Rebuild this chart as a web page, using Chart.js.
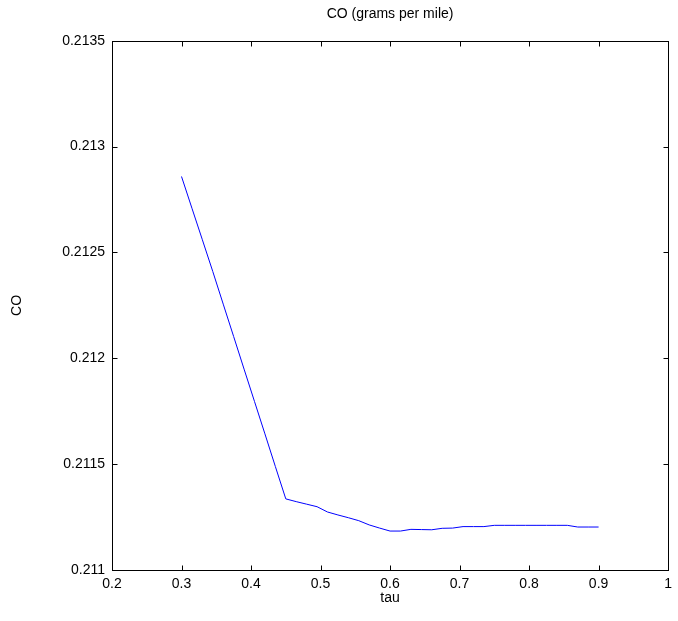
<!DOCTYPE html>
<html>
<head>
<meta charset="utf-8">
<script src="https://cdn.jsdelivr.net/npm/chart.js@4"></script>
<style>
  html, body { margin: 0; padding: 0; background: #fff; }
  #wrap { width: 678px; height: 621px; }
</style>
</head>
<body>
<div id="wrap"><canvas id="coChart" width="678" height="621"></canvas></div>
<script>
// tau grid and CO emissions (grams per mile)
const tauValues = [
  0.3, 0.315, 0.33, 0.345, 0.36, 0.375, 0.39, 0.405, 0.42, 0.435,
  0.45, 0.465, 0.48, 0.495, 0.51, 0.525, 0.54, 0.555, 0.57, 0.585,
  0.6, 0.615, 0.63, 0.645, 0.66, 0.675, 0.69, 0.705, 0.72, 0.735,
  0.75, 0.765, 0.78, 0.795, 0.81, 0.825, 0.84, 0.855, 0.87, 0.885, 0.9
];
const coValues = [
  0.212859, 0.212709, 0.212560, 0.212410, 0.212256, 0.212103, 0.211949, 0.211796, 0.211643, 0.211489,
  0.211336, 0.211323, 0.211311, 0.211299, 0.211274, 0.211260, 0.211247, 0.211233, 0.211213, 0.211198,
  0.211184, 0.211184, 0.211192, 0.211191, 0.211190, 0.211197, 0.211198, 0.211205, 0.211205, 0.211205,
  0.211211, 0.211211, 0.211211, 0.211211, 0.211211, 0.211211, 0.211211, 0.211211, 0.211203, 0.211203, 0.211203
];
const xTickStep = 0.1;
const yTickStep = 0.0005;

const FONT = { family: '"Liberation Sans", Arial, Helvetica, sans-serif', size: 14 };

// black axes box with inward ticks on all four sides
const boxPlugin = {
  id: 'boxPlugin',
  afterDraw(chart) {
    const { ctx, chartArea: a, scales: { x, y } } = chart;
    const L = Math.round(a.left) + 0.5, R = Math.round(a.right) + 0.5;
    const T = Math.round(a.top) + 0.5, B = Math.round(a.bottom) + 0.5;
    const len = 5;
    ctx.save();
    ctx.lineWidth = 1;
    ctx.strokeStyle = '#000';
    ctx.beginPath();
    x.ticks.forEach(t => {
      const px = Math.round(x.getPixelForValue(t.value)) + 0.5;
      ctx.moveTo(px, B); ctx.lineTo(px, B - len);
      ctx.moveTo(px, T); ctx.lineTo(px, T + len);
    });
    y.ticks.forEach(t => {
      const py = Math.round(y.getPixelForValue(t.value)) + 0.5;
      ctx.moveTo(L, py); ctx.lineTo(L + len, py);
      ctx.moveTo(R, py); ctx.lineTo(R - len, py);
    });
    ctx.stroke();
    ctx.strokeRect(L, T, R - L, B - T);
    ctx.restore();
  }
};

new Chart(document.getElementById('coChart').getContext('2d'), {
  type: 'line',
  data: {
    datasets: [{
      data: tauValues.map((t, i) => ({ x: t, y: coValues[i] })),
      borderColor: '#0000ff',
      borderWidth: 1,
      pointRadius: 0,
      tension: 0,
      fill: false
    }]
  },
  options: {
    responsive: false,
    animation: false,
    layout: { padding: { left: 0, right: 6, top: 0, bottom: 0 } },
    plugins: {
      legend: { display: false },
      tooltip: { enabled: false },
      title: {
        display: true,
        fullSize: false,
        text: 'CO (grams per mile)',
        color: '#000',
        font: { ...FONT, weight: 'normal' },
        padding: { top: 6, bottom: 18 }
      }
    },
    scales: {
      x: {
        type: 'linear',
        min: 0.2,
        max: 1,
        grid: { display: false, drawTicks: false },
        border: { display: false },
        ticks: {
          stepSize: xTickStep,
          color: '#000',
          font: FONT,
          padding: 6,
          maxRotation: 0,
          callback: v => String(parseFloat(v.toFixed(1)))
        },
        title: { display: true, text: 'tau', color: '#000', font: FONT, padding: { top: 0, bottom: 14 } },
        afterFit(scale) { scale.height = 51; }
      },
      y: {
        type: 'linear',
        min: 0.211,
        max: 0.2135,
        grid: { display: false, drawTicks: false },
        border: { display: false },
        ticks: {
          stepSize: yTickStep,
          color: '#000',
          font: FONT,
          padding: 7,
          callback: v => String(parseFloat(v.toFixed(4)))
        },
        title: { display: true, text: 'CO', color: '#000', font: FONT, padding: { top: 9, bottom: 0 } },
        afterFit(scale) { scale.width = 112; }
      }
    }
  },
  plugins: [boxPlugin]
});
</script>
</body>
</html>
